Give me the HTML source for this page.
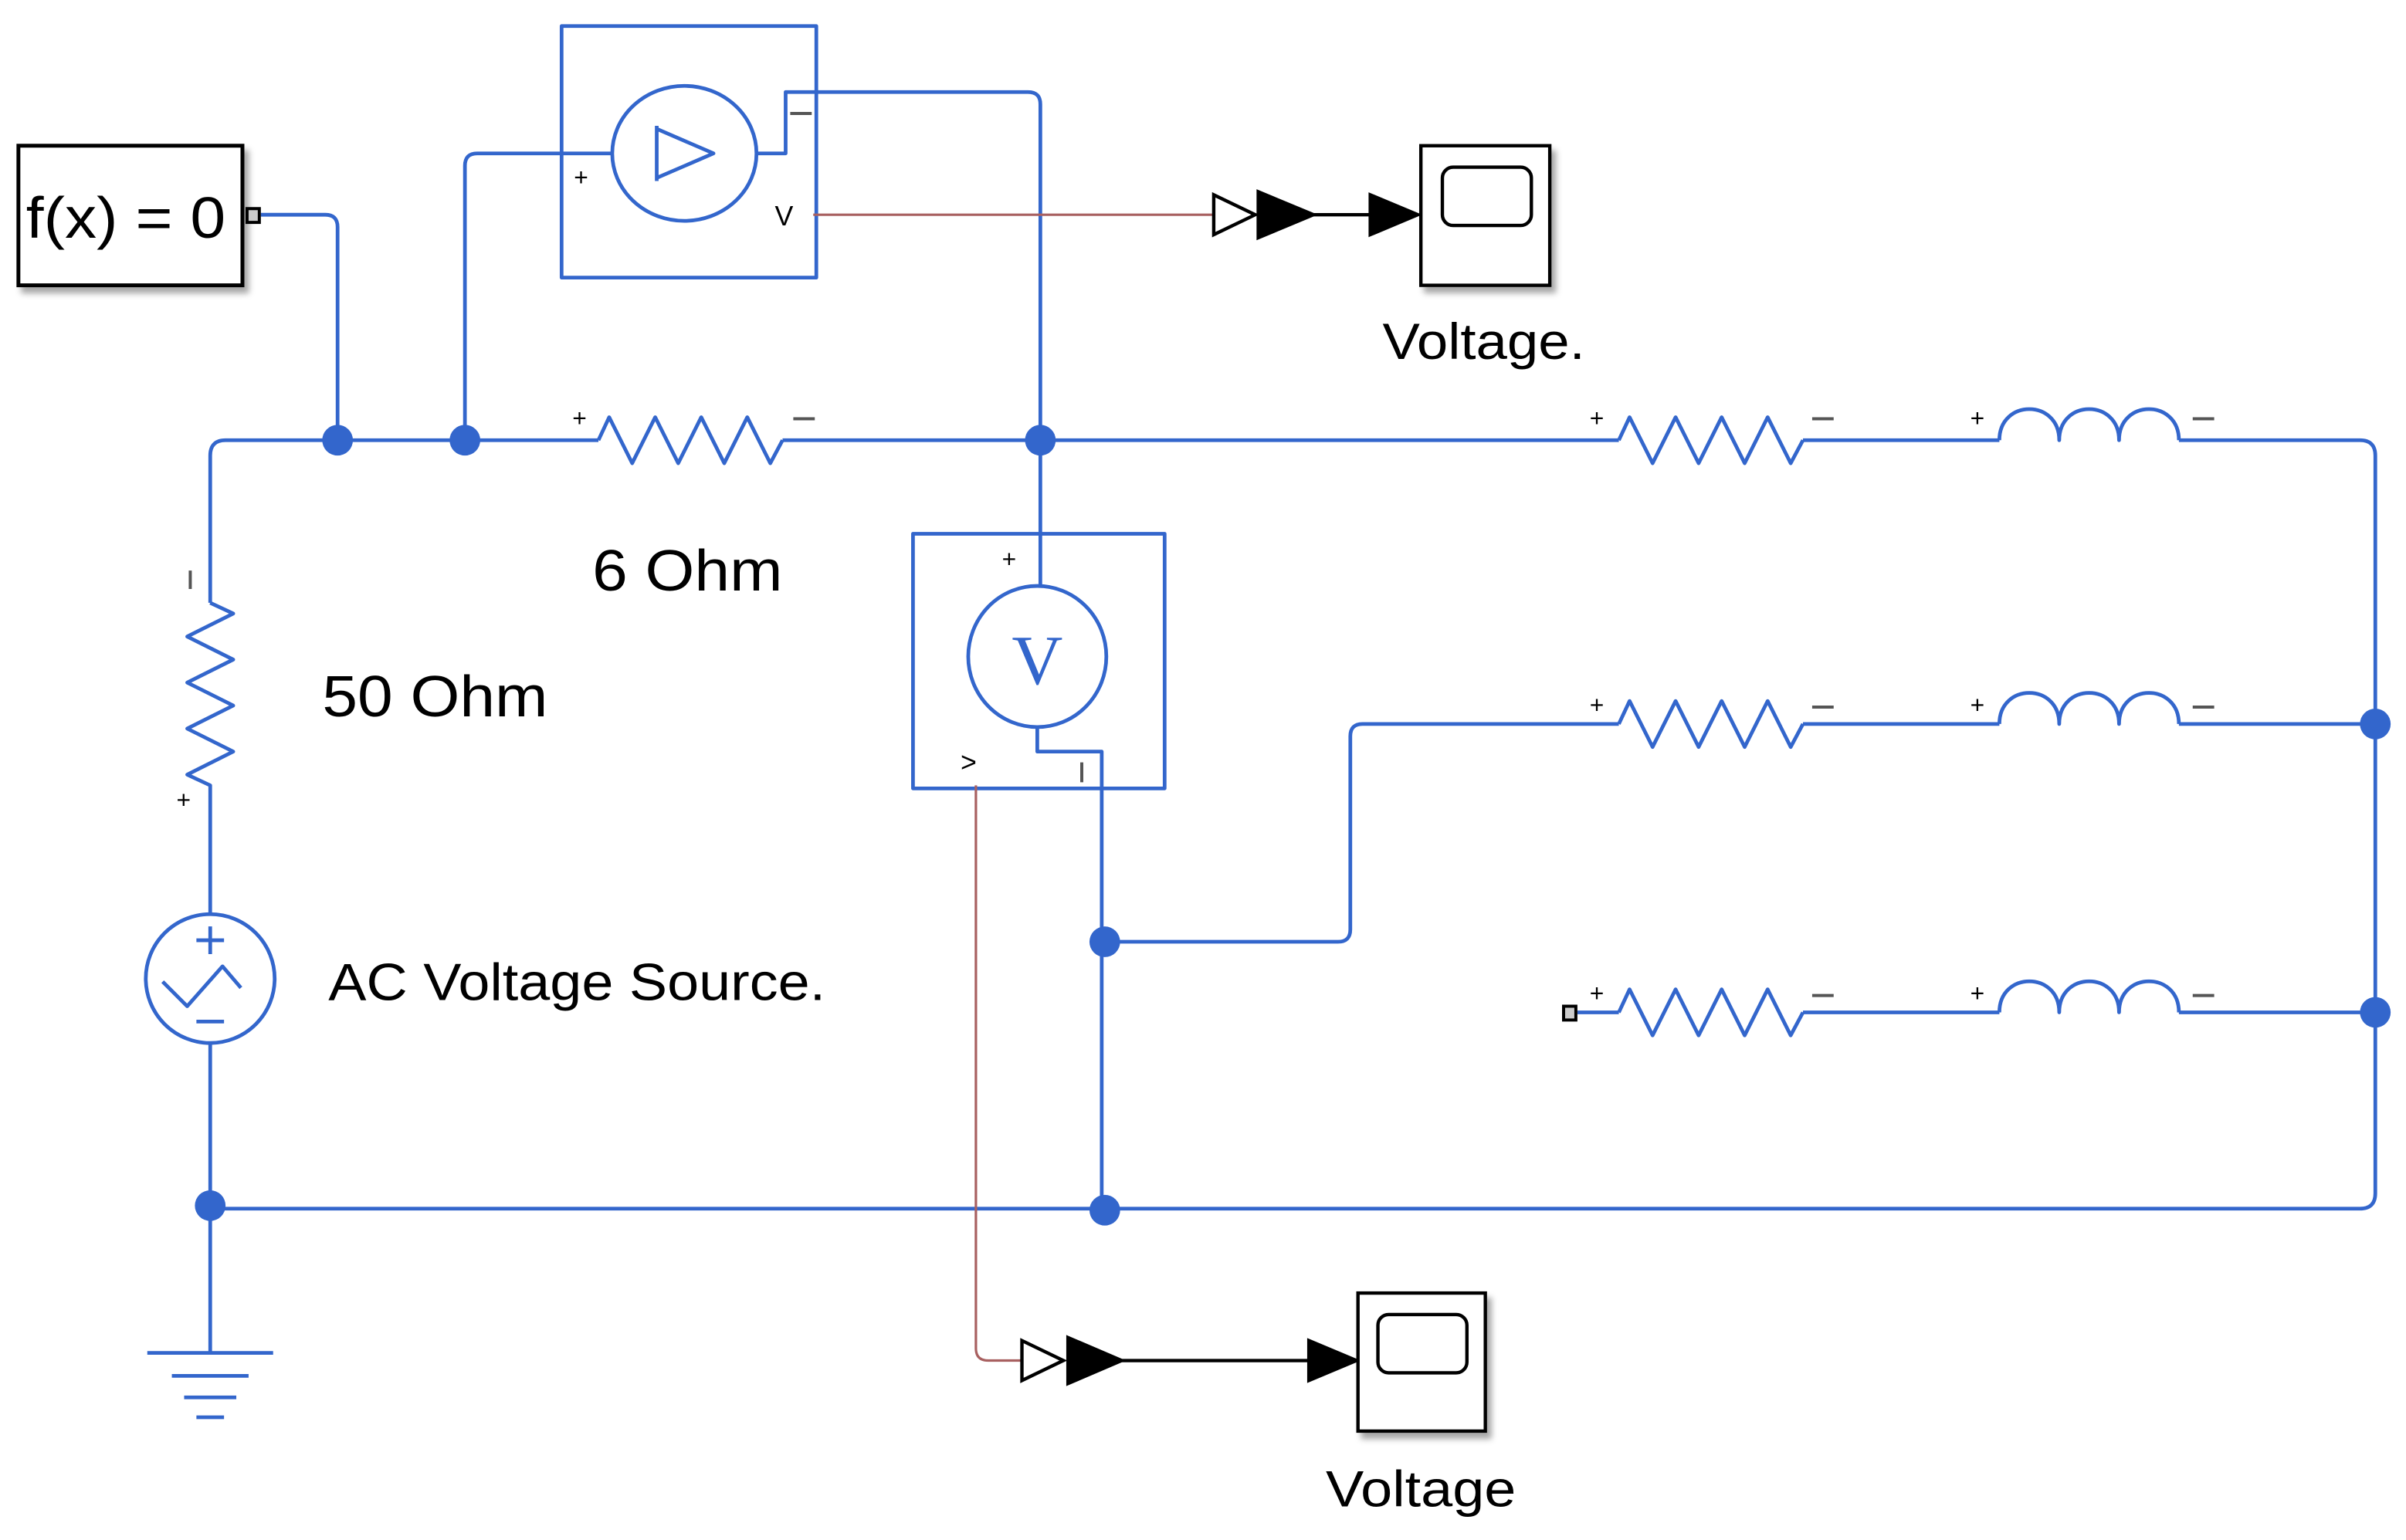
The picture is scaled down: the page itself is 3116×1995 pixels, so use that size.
<!DOCTYPE html>
<html><head><meta charset="utf-8"><style>
html,body{margin:0;padding:0;background:#fff;width:3116px;height:1995px;overflow:hidden}
svg{display:block}
text{font-family:"Liberation Sans",sans-serif;fill:#000}
</style></head><body>
<svg width="3116" height="1995" viewBox="0 0 1568 1004" preserveAspectRatio="none" xmlns="http://www.w3.org/2000/svg">
<defs>
<filter id="sh" x="-20%" y="-20%" width="150%" height="150%"><feDropShadow dx="3" dy="4" stdDeviation="2" flood-color="#000" flood-opacity="0.35"/></filter>
</defs>
<g fill="none" stroke="#3366cc" stroke-width="2.4" stroke-linejoin="round">
<path d="M137 393 V297 Q137 287 147 287 H390"/>
<path d="M510 287 H1055"/>
<path d="M1175 287 H1303"/>
<path d="M1420 287 H1538 Q1548 287 1548 297 V778 Q1548 788 1538 788 H137"/>
<path d="M720 614 H872 Q880 614 880 606 V480 Q880 472 888 472 H1055"/>
<path d="M1175 472 H1303"/><path d="M1420 472 H1548"/>
<path d="M1028 660 H1055"/>
<path d="M1175 660 H1303"/><path d="M1420 660 H1548"/>
<path d="M390 287 L397 272 L412 302 L427 272 L442 302 L457 272 L472 302 L487 272 L502 302 L510 287"/>
<path d="M1055 287 L1062 272 L1077 302 L1092 272 L1107 302 L1122 272 L1137 302 L1152 272 L1167 302 L1175 287"/>
<path d="M1055 472 L1062 457 L1077 487 L1092 457 L1107 487 L1122 457 L1137 487 L1152 457 L1167 487 L1175 472"/>
<path d="M1055 660 L1062 645 L1077 675 L1092 645 L1107 675 L1122 645 L1137 675 L1152 645 L1167 675 L1175 660"/>
<path d="M137 393 L152 400 L122 415 L152 430 L122 445 L152 460 L122 475 L152 490 L122 505 L137 512 V596"/>
<path d="M1303 287 C1303 260 1342 260 1342 287 C1342 260 1381 260 1381 287 C1381 260 1420 260 1420 287"/>
<path d="M1303 472 C1303 445 1342 445 1342 472 C1342 445 1381 445 1381 472 C1381 445 1420 445 1420 472"/>
<path d="M1303 660 C1303 633 1342 633 1342 660 C1342 633 1381 633 1381 660 C1381 633 1420 633 1420 660"/>
<path d="M170 140 H212 Q220 140 220 148 V287"/>
<rect x="366" y="17" width="166" height="164"/>
<ellipse cx="446" cy="100" rx="47" ry="44"/>
<path d="M428 82 V118 M428 84 L465 100 L428 116"/>
<path d="M399 100 H311 Q303 100 303 108 V287"/>
<path d="M493 100 H512 V60 H670 Q678 60 678 68 V348"/>
<rect x="595" y="348" width="164" height="166"/>
<ellipse cx="676" cy="428" rx="45" ry="46"/>
<path d="M678 348 V382"/>
<path d="M676 474 V490 H718 V788"/>
<ellipse cx="137" cy="638" rx="42" ry="42"/>
<path d="M137 680 V882"/>
<path d="M106 640 L122 656 L145 630 L157 644"/>
<path d="M137 604 V622 M128 613 H146 M128 666 H146"/>
<path d="M96 882 H178 M112 897 H162 M120 911 H154 M128 924 H146"/>
</g>
<g fill="#3366cc">
<circle cx="220" cy="287" r="10"/><circle cx="303" cy="287" r="10"/><circle cx="678" cy="287" r="10"/>
<circle cx="720" cy="614" r="10"/><circle cx="720" cy="789" r="10"/><circle cx="137" cy="786" r="10"/>
<circle cx="1548" cy="472" r="10"/><circle cx="1548" cy="660" r="10"/>
</g>
<text x="676" y="446" font-size="46" text-anchor="middle" style="fill:#3366cc;font-family:'Liberation Serif',serif">V</text>
<g fill="none" stroke="#a86060" stroke-width="1.6">
<path d="M530 140 H790"/>
<path d="M636 512 V879 Q636 887 644 887 H665"/>
</g>
<rect x="12" y="95" width="146" height="91" fill="#fff" stroke="#000" stroke-width="2.5" filter="url(#sh)"/>
<text x="17" y="155" font-size="38" textLength="130" lengthAdjust="spacingAndGlyphs">f(x) = 0</text>
<rect x="161" y="136" width="8" height="9" fill="#ccc" stroke="#000" stroke-width="2"/>
<rect x="1019" y="656" width="8" height="9" fill="#ccc" stroke="#000" stroke-width="2"/>
<g stroke="#000" stroke-width="2.2">
<path d="M791 127 L818 140 L791 153 Z" fill="#fff"/>
<path d="M820 125 L856 140 L820 155 Z" fill="#000"/>
<path d="M856 140 H893" fill="none"/>
<path d="M893 127 L924 140 L893 153 Z" fill="#000"/>
<rect x="926" y="95" width="84" height="91" fill="#fff" filter="url(#sh)"/>
<rect x="940" y="109" width="58" height="38" rx="7" fill="none"/>
<path d="M666 874 L693 887 L666 900 Z" fill="#fff"/>
<path d="M696 872 L731 887 L696 902 Z" fill="#000"/>
<path d="M731 887 H853" fill="none"/>
<path d="M853 874 L884 887 L853 900 Z" fill="#000"/>
<rect x="885" y="843" width="83" height="90" fill="#fff" filter="url(#sh)"/>
<rect x="898" y="857" width="58" height="38" rx="7" fill="none"/>
</g>
<text x="901" y="234" font-size="33" textLength="132" lengthAdjust="spacingAndGlyphs">Voltage.</text>
<text x="864" y="982" font-size="33" textLength="124" lengthAdjust="spacingAndGlyphs">Voltage</text>
<text x="386" y="385" font-size="38" textLength="124" lengthAdjust="spacingAndGlyphs">6 Ohm</text>
<text x="210" y="467" font-size="38" textLength="147" lengthAdjust="spacingAndGlyphs">50 Ohm</text>
<text x="214" y="652" font-size="34" textLength="324" lengthAdjust="spacingAndGlyphs">AC Voltage Source.</text>
<g font-size="16" fill="#333">
<text x="374" y="121">+</text>
<text x="505" y="147" font-size="18">V</text>
<text x="653" y="370">+</text>
<text x="626" y="503" font-size="18">&gt;</text>
<text x="115" y="527">+</text>
<text x="373" y="278">+</text><text x="1036" y="278">+</text><text x="1284" y="278">+</text>
<text x="1036" y="465">+</text><text x="1284" y="465">+</text>
<text x="1036" y="653">+</text><text x="1284" y="653">+</text>
</g>
<g stroke="#555" stroke-width="2">
<path d="M515 74 H529 M517 273 H531 M1181 273 H1195 M1429 273 H1443 M1181 461 H1195 M1429 461 H1443 M1181 649 H1195 M1429 649 H1443"/>
<path d="M124 372 V384 M705 497 V510"/>
</g>
</svg>
</body></html>
